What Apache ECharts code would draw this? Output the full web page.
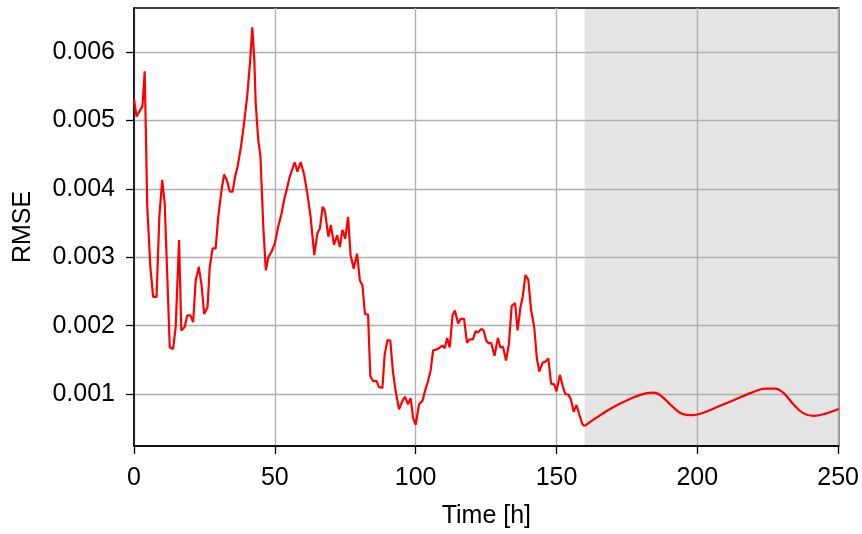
<!DOCTYPE html>
<html>
<head>
<meta charset="utf-8">
<script src="https://cdn.jsdelivr.net/npm/echarts@6/dist/echarts.min.js"></script>
<style>
  html, body { margin: 0; padding: 0; background: #fff; }
  #chart { width: 862px; height: 534px; }
</style>
</head>
<body>
<div id="chart"></div>
<script>
// Hourly RMSE of the observed period (0-160 h)
const observedTime = [0, 0.9, 3.0, 3.8, 4.7, 5.8, 6.8, 8.0, 9.0, 10.0, 10.9, 11.7, 12.7, 13.9, 14.8, 16.0, 16.8, 18.0, 18.9, 20.0,
  21.0, 21.9, 23.0, 24.0, 24.9, 26.1, 26.9, 27.9, 29.0, 29.9, 31.1, 32.0, 33.1, 34.0, 35.0, 35.9, 36.8, 38.0, 39.1, 40.2,
  41.2, 42.0, 42.7, 43.2, 44.1, 44.9, 45.9, 46.8, 47.7, 48.8, 50.0, 51.2, 52.4, 53.3, 54.1, 55.3, 57.1, 58.0, 59.2, 60.4,
  61.5, 62.7, 64.0, 65.1, 66.0, 67.0, 67.8, 69.0, 69.9, 71.0, 72.1, 73.1, 74.0, 75.0, 76.0, 76.9, 78.0, 79.2, 80.2, 81.1,
  82.0, 83.1, 83.9, 84.9, 86.1, 87.0, 88.2, 89.0, 90.0, 91.0, 91.9, 92.9, 94.1, 95.3, 96.2, 97.3, 98.2, 99.1, 100.0, 101.2,
  102.4, 103.3, 104.4, 105.3, 106.2, 107.4, 108.6, 109.5, 110.3, 111.2, 112.1, 113.1, 113.9, 115.1, 116.0, 117.2, 118.2, 119.2, 120.3, 121.3,
  122.1, 123.3, 124.1, 125.1, 126.0, 126.8, 128.0, 129.2, 130.1, 131.0, 132.1, 133.1, 134.1, 135.3, 136.2, 137.2, 138.0, 139.0, 140.0, 141.0,
  142.1, 143.0, 143.9, 145.1, 146.0, 147.1, 148.1, 149.2, 150.0, 151.2, 152.2, 153.1, 154.3, 155.1, 156.1, 157.1, 158.1, 159.2, 160.0];
const observedRmse = [0.00531, 0.00506, 0.00521, 0.00572, 0.00374, 0.00286, 0.00242, 0.00242, 0.00359, 0.00413, 0.00379, 0.00286, 0.00168, 0.00166, 0.00198, 0.00325, 0.00193, 0.00198, 0.00215, 0.00215,
  0.00205, 0.00266, 0.00286, 0.00259, 0.00217, 0.00227, 0.00286, 0.00313, 0.00313, 0.00359, 0.00399, 0.00421, 0.00411, 0.00396, 0.00396, 0.00418, 0.00433, 0.00462, 0.00497, 0.00536,
  0.00585, 0.00636, 0.00590, 0.00526, 0.00472, 0.00447, 0.00345, 0.00281, 0.00300, 0.00308, 0.00320, 0.00345, 0.00364, 0.00384, 0.00397, 0.00418, 0.00439, 0.00425, 0.00439, 0.00421,
  0.00394, 0.00359, 0.00303, 0.00335, 0.00342, 0.00374, 0.00367, 0.00330, 0.00347, 0.00318, 0.00332, 0.00315, 0.00340, 0.00327, 0.00359, 0.00303, 0.00283, 0.00305, 0.00266, 0.00259,
  0.00217, 0.00216, 0.00126, 0.00119, 0.00119, 0.00110, 0.00109, 0.00158, 0.00179, 0.00178, 0.00134, 0.00104, 0.000775, 0.00090, 0.00096, 0.00085, 0.00094, 0.00065, 0.00055, 0.00085,
  0.00090, 0.00104, 0.00119, 0.00134, 0.00164, 0.00165, 0.00168, 0.00171, 0.00167, 0.00182, 0.00168, 0.00215, 0.00222, 0.00203, 0.00210, 0.00210, 0.00175, 0.00180, 0.00180, 0.00192,
  0.00190, 0.00195, 0.00193, 0.00178, 0.00174, 0.00175, 0.00156, 0.00182, 0.00168, 0.00169, 0.00149, 0.00173, 0.00229, 0.00233, 0.00193, 0.00227, 0.00242, 0.00274, 0.00267, 0.00222,
  0.00198, 0.00153, 0.00133, 0.00146, 0.00147, 0.00152, 0.00115, 0.00114, 0.00104, 0.00128, 0.00112, 0.00100, 0.00099, 0.00092, 0.00074, 0.00084, 0.00070, 0.00056, 0.00053];

// Forecast period (160 h onwards)
const forecastTime = [160.0, 164.0, 169.8, 175.7, 181.6, 184.6, 187.5, 191.1, 194.6, 198.1, 201.7, 207.6, 213.5, 219.3, 224.1, 227.6, 230.5, 234.1, 237.6, 241.2, 245.3, 250.2];
const forecastRmse = [0.00053, 0.00065, 0.00080, 0.00092, 0.00101, 0.00102, 0.00096, 0.00082, 0.00071, 0.00069, 0.00072, 0.00082, 0.00092, 0.00102, 0.00108, 0.00108, 0.00102, 0.00085, 0.00072, 0.00068, 0.00071, 0.00078];

const xTicks = [0, 50, 100, 150, 200, 250];
const yTicks = [0.001, 0.002, 0.003, 0.004, 0.005, 0.006];
const forecastStart = 160;
const xMax = 250.2;

const font = '"Liberation Sans", Arial, sans-serif';
const zip = (xs, ys) => xs.map((x, i) => [x, ys[i]]);

const chart = echarts.init(document.getElementById('chart'), null, { renderer: 'canvas' });
chart.setOption({
  animation: false,
  backgroundColor: '#ffffff',
  grid: {
    left: 134, right: 22, top: 8, bottom: 88,
    show: true, borderColor: '#000', borderWidth: 1.5, backgroundColor: 'transparent'
  },
  xAxis: {
    type: 'value',
    min: 0, max: xMax,
    name: 'Time [h]',
    nameLocation: 'middle',
    nameGap: 58,
    nameTextStyle: { fontFamily: font, fontSize: 25, color: '#000' },
    axisLine: { show: true, onZero: false, lineStyle: { color: '#000', width: 1.5 } },
    axisTick: { show: true, length: 8, customValues: xTicks, lineStyle: { color: '#000', width: 1.3 } },
    axisLabel: { customValues: xTicks, margin: 20, fontFamily: font, fontSize: 25, color: '#000' },
    splitLine: { show: true, lineStyle: { color: '#b0b0b0', width: 1.4 } }
  },
  yAxis: {
    type: 'value',
    min: 0.00024, max: 0.006644,
    name: 'RMSE',
    nameLocation: 'middle',
    nameGap: 98,
    nameTextStyle: { fontFamily: font, fontSize: 25, color: '#000' },
    axisLine: { show: true, onZero: false, lineStyle: { color: '#000', width: 1.5 } },
    axisTick: { show: true, length: 8, customValues: yTicks, lineStyle: { color: '#000', width: 1.3 } },
    axisLabel: {
      customValues: yTicks, margin: 19, fontFamily: font, fontSize: 25, color: '#000',
      formatter: v => v.toFixed(3)
    },
    splitLine: { show: true, lineStyle: { color: '#b0b0b0', width: 1.4 } }
  },
  series: [
    {
      // shaded forecast window, kept beneath the grid lines
      type: 'line',
      data: [],
      z: -1,
      silent: true,
      markArea: {
        z: -1,
        silent: true,
        itemStyle: { color: '#e5e5e5' },
        data: [[{ xAxis: forecastStart }, { xAxis: xMax }]]
      }
    },
    {
      name: 'observed',
      type: 'line',
      data: zip(observedTime, observedRmse),
      showSymbol: false,
      lineStyle: { color: '#ff0000', width: 2.2 },
      z: 3
    },
    {
      name: 'forecast',
      type: 'line',
      data: zip(forecastTime, forecastRmse),
      showSymbol: false,
      smooth: 0.4,
      lineStyle: { color: '#ff0000', width: 2.2 },
      z: 3
    }
  ]
});
</script>
</body>
</html>
